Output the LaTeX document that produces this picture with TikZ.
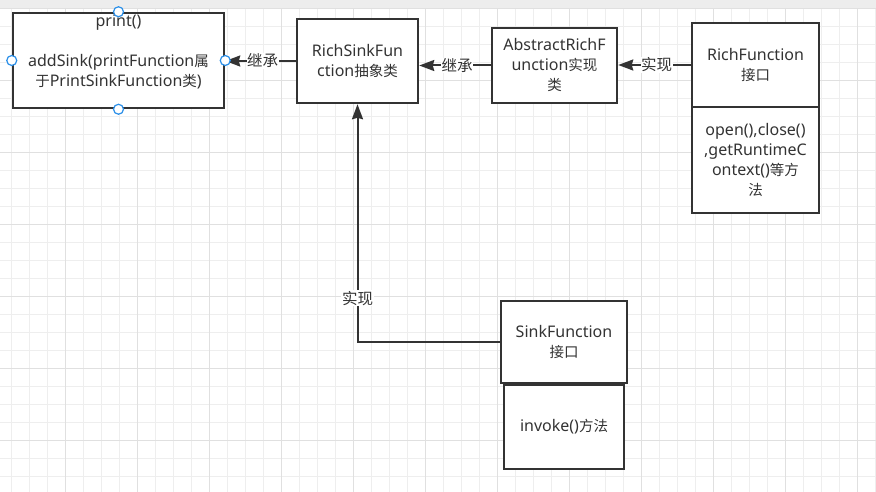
\documentclass[tikz,border=0pt]{standalone}
\usepackage{fontspec}
\setmainfont{Noto Sans}
\newfontfamily\cjkfont{Noto Sans CJK SC}
\usetikzlibrary{arrows.meta}
\definecolor{ink}{HTML}{333333}
\definecolor{gridminor}{HTML}{EEEEEE}
\definecolor{gridmajor}{HTML}{E0E0E0}
\definecolor{strip}{HTML}{EDEDED}
\definecolor{handleblue}{HTML}{2B8FE8}
\newcommand\zh[1]{{\cjkfont\fontsize{14.5}{20}\selectfont #1}}
\begin{document}
\begin{tikzpicture}[x=1pt,y=-1pt,
  box/.style={draw=ink, line width=2.5pt, fill=white, inner sep=0pt},
  txt/.style={text=ink, align=center, font=\fontsize{16}{20}\selectfont, inner sep=0pt},
  conn/.style={draw=ink, line width=2pt, -{Stealth[length=15pt,width=11pt,inset=1.5pt]}},
  elabel/.style={fill=white, text=ink, font=\cjkfont\fontsize{15.5}{18}\selectfont, inner sep=0.6pt},
  handle/.style={circle, draw=handleblue, fill=white, line width=1.2pt, minimum size=10pt, inner sep=0pt}]

\useasboundingbox (0,0) rectangle (876,492);
\fill[white] (0,0) rectangle (876,492);
% grid
\foreach \k in {0,...,48} {\draw[gridminor, line width=1pt] ({11.3+18*\k},8) -- ({11.3+18*\k},492);}
\foreach \k in {0,...,27} {\draw[gridminor, line width=1pt] (0,{8.7+18*\k}) -- (876,{8.7+18*\k});}
\foreach \k in {0,...,11} {\draw[gridmajor, line width=1pt] ({65.3+72*\k},8) -- ({65.3+72*\k},492);}
\foreach \k in {0,...,6} {\draw[gridmajor, line width=1pt] (0,{8.7+72*\k}) -- (876,{8.7+72*\k});}
\fill[strip] (0,0) rectangle (876,8);

% boxes
\node[box, minimum width=211pt, minimum height=95pt] (print) at (118.5,60.5) {};
\node[txt] (printtxt) at (118.5,51.5) {print()\\\mbox{}\\addSink(printFunction\zh{属}\\\zh{于}PrintSinkFunction\zh{类})};

\node[box, txt, minimum width=121pt, minimum height=84pt] (rsf) at (357.5,61) {RichSinkFun\\ction\zh{抽象类}};
\node[box, txt, minimum width=125pt, minimum height=75pt] (arf) at (554.5,65.5) {AbstractRichF\\unction\zh{实现}\\\zh{类}};
\node[box, txt, minimum width=127pt, minimum height=106pt] (rfm) at (755.5,160) {open(),close()\\,getRuntimeC\\ontext()\zh{等方}\\\zh{法}};
\node[box, txt, minimum width=127pt, minimum height=84pt] (rf) at (755.5,65) {RichFunction\\\zh{接口}};
\node[box, txt, minimum width=126pt, minimum height=82pt] (sf) at (564,342) {SinkFunction\\\zh{接口}};
\node[box, txt, minimum width=120pt, minimum height=84pt] (inv) at (564,427) {invoke()\zh{方法}};

% connectors
\draw[conn] (rsf.west) -- (rsf.west -| print.east) node[elabel, pos=0.47] (l1) {继承};
\draw[conn] (arf.west) -- (arf.west -| rsf.east) node[elabel, pos=0.47] (l2) {继承};
\draw[conn] (rf.west) -- (rf.west -| arf.east) node[elabel, pos=0.47] (l3) {实现};
\draw[conn] (sf.west) -| (rsf.south) node[elabel, pos=0.592] (l4) {实现};

% selection handles
\node[handle] (hn) at (print.north) {};
\node[handle] (hs) at (print.south) {};
\node[handle] (he) at (print.east) {};
\node[handle] (hw) at (print.west) {};
\end{tikzpicture}
\end{document}
